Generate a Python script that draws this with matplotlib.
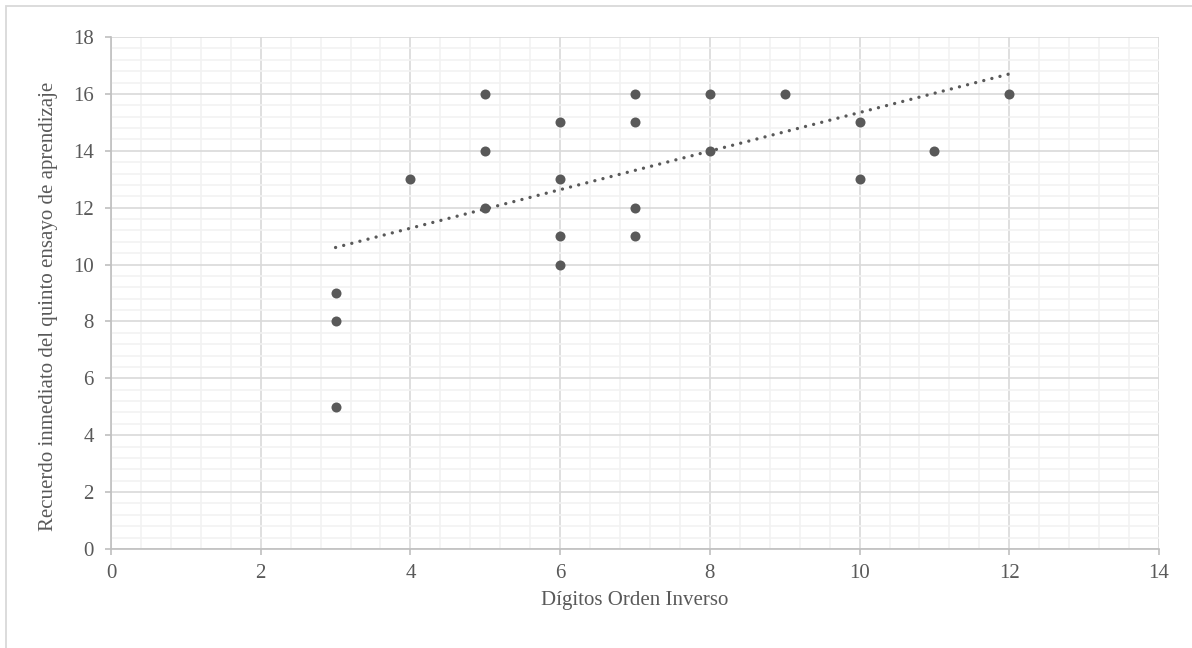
import matplotlib
matplotlib.use("Agg")
import matplotlib.pyplot as plt
from matplotlib.patches import Rectangle
from matplotlib.ticker import MultipleLocator

# data
digitos = [3, 3, 3, 4, 5, 5, 5, 6, 6, 6, 6, 7, 7, 7, 7, 8, 8, 9, 10, 10, 11, 12]
recuerdo = [9, 8, 5, 13, 16, 14, 12, 15, 13, 11, 10, 16, 15, 12, 11, 16, 14, 16, 15, 13, 14, 16]
trend_x = [3, 12]
trend_y = [10.6, 16.7]

plt.rcParams['font.family'] = ['Liberation Serif', 'DejaVu Serif']

fig = plt.figure(figsize=(11.92, 6.48), dpi=100)
ax = fig.add_axes([111/1192, 1 - 549/648, (1159 - 111)/1192, (549 - 37)/648])

# outer chart frame (right/bottom edges fall outside the image)
fig.patches.append(Rectangle((6/1192, -0.5), 2, 1 + 0.5 - 6/648,
                             transform=fig.transFigure, fill=False,
                             edgecolor='#d9d9d9', linewidth=1.3))

ax.scatter(digitos, recuerdo, s=52, color='#595959', zorder=3, linewidths=0)
ax.plot(trend_x, trend_y, color='#595959', linestyle=(0, (0.01, 2.5)),
        linewidth=2.4, dash_capstyle='round', zorder=2)

ax.set_xlim(0, 14)
ax.set_ylim(0, 18)
ax.xaxis.set_major_locator(MultipleLocator(2))
ax.yaxis.set_major_locator(MultipleLocator(2))
ax.xaxis.set_minor_locator(MultipleLocator(0.4))
ax.yaxis.set_minor_locator(MultipleLocator(0.4))
ax.grid(which='minor', color='#f2f2f2', linewidth=1.2, zorder=0)
ax.grid(which='major', color='#d9d9d9', linewidth=1.2, zorder=1)
ax.set_axisbelow(True)

for s in ['top', 'right']:
    ax.spines[s].set_visible(False)
for s in ['left', 'bottom']:
    ax.spines[s].set_color('#bfbfbf')
    ax.spines[s].set_linewidth(1.2)

ax.tick_params(which='major', length=4.5, color='#bfbfbf', width=1.2,
               labelsize=15, labelcolor='#595959')
ax.tick_params(axis='x', pad=6)
ax.tick_params(axis='y', pad=8)
ax.tick_params(which='minor', length=0)

ax.set_xlabel('Dígitos Orden Inverso', fontsize=15, color='#595959', labelpad=6)
ax.set_ylabel('Recuerdo inmediato del quinto ensayo de aprendizaje', fontsize=15,
              color='#595959')
ax.yaxis.set_label_coords(-0.0507, 0.4746)

fig.savefig('out.png', dpi=100)
